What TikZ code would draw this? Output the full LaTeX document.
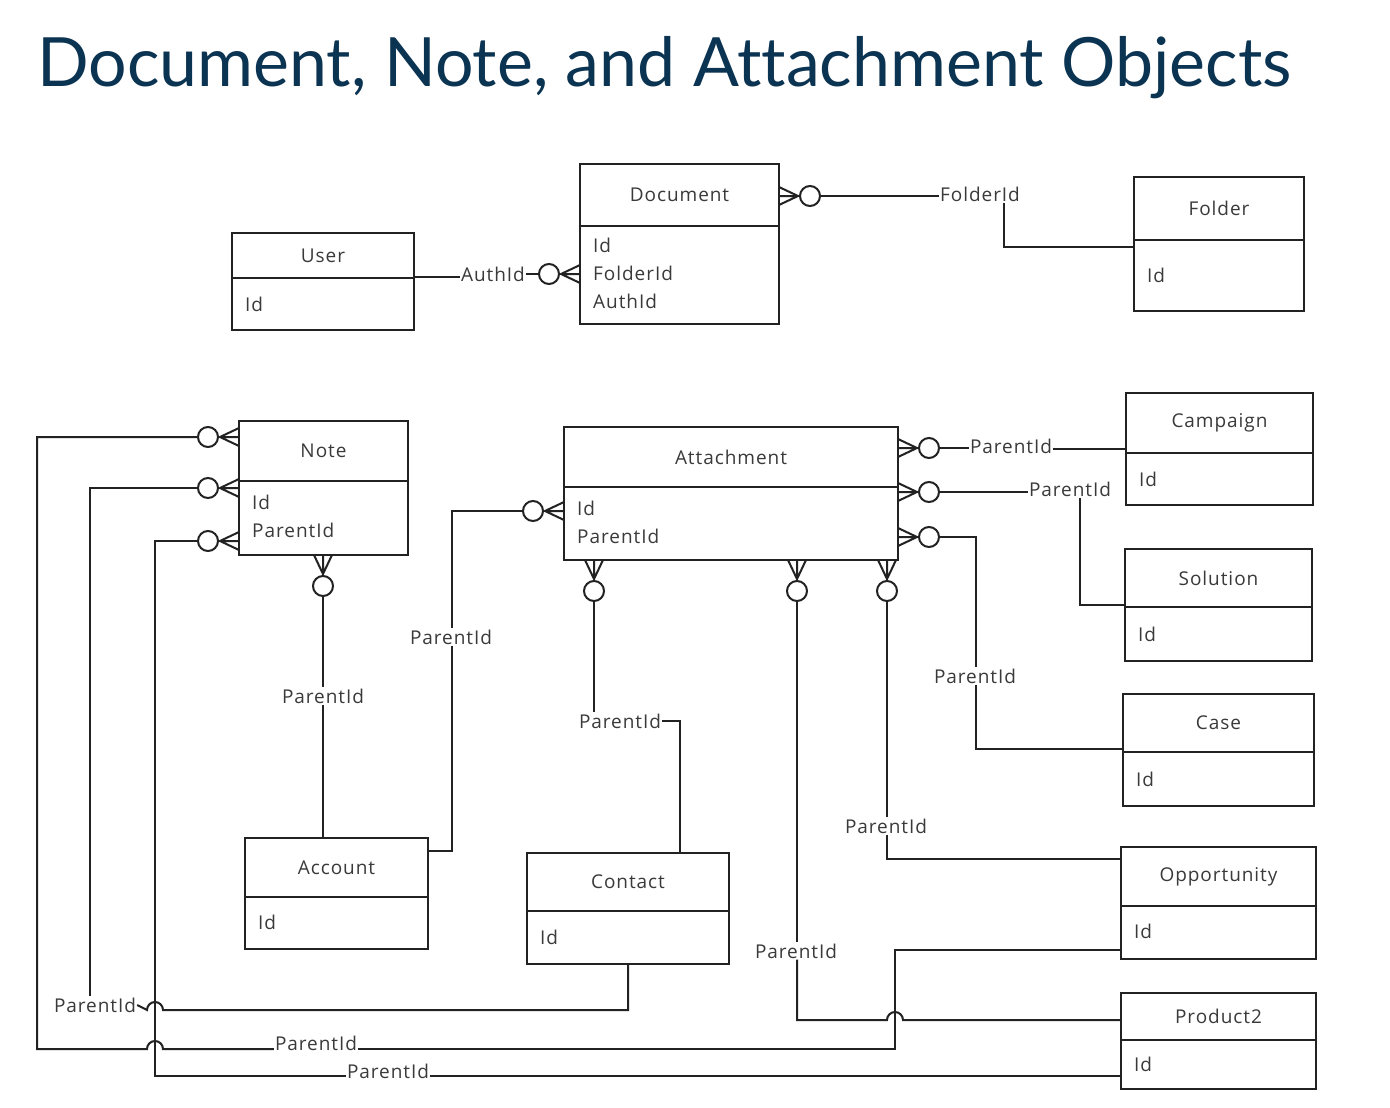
\documentclass[tikz,border=0pt]{standalone}
\usepackage{fontspec}
\setmainfont{Open Sans}[LetterSpace=5]
\newfontfamily\titlefont{Lato}[Ligatures=NoCommon]
\definecolor{titleblue}{HTML}{0B3352}
\definecolor{ink}{HTML}{222222}
\definecolor{txt}{HTML}{3A3A3A}
\tikzset{
  edge/.style={draw=ink, line width=2pt},
  entbox/.style={draw=ink, line width=2.2pt, fill=white, inner sep=0pt, outer sep=0pt, rectangle},
  enttitle/.style={inner sep=0pt, text=txt, font=\fontsize{19}{22}\selectfont},
  fields/.style={anchor=west, inner sep=0pt, align=left, text=txt, font=\fontsize{19}{28}\selectfont},
  lbl/.style={inner sep=1pt, text=txt, font=\fontsize{19}{22}\selectfont},
  crow/.pic={
    \draw[edge] (0,-9) -- (19,0) -- (0,9) (0,0) -- (19,0);
    \draw[edge, fill=white] (31,0) circle[radius=10];
    \coordinate (-end) at (41,0);
  }
}
\newcommand\erentity[9]{%
  \node[entbox, minimum width={(#4-#2)*1pt}, minimum height={(#5-#3)*1pt}, anchor=north west] (#1) at (#2,#3) {};
  \draw[edge] (#1.west |- 0,#6) -- (#1.east |- 0,#6);
  \node[enttitle] (#1-t) at ({(#2+#4)/2},{(#3+#6)/2}) {#7};
  \node[fields] (#1-f) at ({#2+13},#8) {#9};
}
\begin{document}
\begin{tikzpicture}[x=1pt,y=-1pt]
\useasboundingbox[fill=white] (0,0) rectangle (1390,1108);

\node[anchor=base west, inner sep=0pt, text=titleblue, font=\titlefont\fontsize{68}{78}\selectfont] (title) at (37,87) {Document, Note, and Attachment Objects};

% entities
\erentity{doc}{580}{164}{779}{324}{226}{Document}{273}{Id\\FolderId\\AuthId}
\erentity{user}{232}{233}{414}{330}{278}{User}{304}{Id}
\erentity{folder}{1134}{177}{1304}{311}{240}{Folder}{275}{Id}
\erentity{note}{239}{421}{408}{555}{481}{Note}{516}{Id\\ParentId}
\erentity{att}{564}{427}{898}{560}{487}{Attachment}{522}{Id\\ParentId}
\erentity{account}{245}{838}{428}{949}{897}{Account}{922}{Id}
\erentity{contact}{527}{853}{729}{964}{911}{Contact}{937}{Id}
\erentity{camp}{1126}{393}{1313}{505}{453}{Campaign}{479}{Id}
\erentity{sol}{1125}{549}{1312}{661}{607}{Solution}{634}{Id}
\erentity{case}{1123}{694}{1314}{806}{752}{Case}{779}{Id}
\erentity{opp}{1121}{847}{1316}{959}{906}{Opportunity}{931}{Id}
\erentity{prod}{1121}{993}{1316}{1089}{1040}{Product2}{1064}{Id}

% User - Document
\pic[rotate=180] (cAuth) at (doc.west |- 0,274) {crow};
\node[lbl] (lAuth) at (493,274) {AuthId};
\draw[edge] (user.east |- 0,277) -- (lAuth.west |- 0,277);
\draw[edge] (lAuth.east) -- (cAuth-end);

% Document - Folder
\pic (cFold) at (doc.east |- 0,196) {crow};
\node[lbl] (lFold) at (980,194) {FolderId};
\draw[edge] (cFold-end) -- (lFold.west |- 0,196);
\draw[edge] (lFold.south -| 1004,0) -- (1004,247) -- (folder.west |- 0,247);

% Note - Opportunity
\pic[rotate=180] (cN1) at (note.west |- 0,437) {crow};
\node[lbl] (lN1) at (316,1043) {ParentId};
\draw[edge] (cN1-end) -- (37,437) -- (37,1049) -- (147,1049) arc[start angle=180, end angle=0, radius=8pt] -- (lN1.west |- 0,1049);
\draw[edge] (lN1.east |- 0,1049) -- (895,1049) -- (895,950) -- (opp.west |- 0,950);

% Note - Contact
\pic[rotate=180] (cN2) at (note.west |- 0,488) {crow};
\node[lbl] (lN2) at (95,1005) {ParentId};
\draw[edge] (cN2-end) -- (90,488) -- (lN2.north -| 90,0);
\draw[edge] (contact.south -| 628,0) -- (628,1010) -- (163,1010) arc[start angle=0, end angle=180, radius=8pt] -- (lN2.east);

% Note - Product2
\pic[rotate=180] (cN3) at (note.west |- 0,541) {crow};
\node[lbl] (lN3) at (388,1071) {ParentId};
\draw[edge] (cN3-end) -- (155,541) -- (155,1076) -- (lN3.west |- 0,1076);
\draw[edge] (lN3.east |- 0,1076) -- (prod.west |- 0,1076);

% Note - Account
\pic[rotate=-90] (cN4) at (note.south -| 323,0) {crow};
\node[lbl] (lN4) at (323,696) {ParentId};
\draw[edge] (cN4-end) -- (lN4.north);
\draw[edge] (lN4.south) -- (account.north -| 323,0);

% Account - Attachment
\pic[rotate=180] (cA1) at (att.west |- 0,511) {crow};
\node[lbl] (lA1) at (451,637) {ParentId};
\draw[edge] (account.east |- 0,851) -- (452,851) -- (lA1.south -| 452,0);
\draw[edge] (lA1.north -| 452,0) -- (452,511) -- (cA1-end);

% Attachment - Contact
\pic[rotate=-90] (cA2) at (att.south -| 594,0) {crow};
\node[lbl] (lA2) at (620,721) {ParentId};
\draw[edge] (cA2-end) -- (lA2.north -| 594,0);
\draw[edge] (lA2.east) -- (680,721) -- (contact.north -| 680,0);

% Attachment - Product2
\pic[rotate=-90] (cA3) at (att.south -| 797,0) {crow};
\node[lbl] (lA3) at (796,951) {ParentId};
\draw[edge] (cA3-end) -- (lA3.north -| 797,0);
\draw[edge] (lA3.south -| 797,0) -- (797,1020) -- (887,1020) arc[start angle=180, end angle=0, radius=8pt] -- (prod.west |- 0,1020);

% Attachment - Opportunity
\pic[rotate=-90] (cA4) at (att.south -| 887,0) {crow};
\node[lbl] (lA4) at (886,826) {ParentId};
\draw[edge] (cA4-end) -- (lA4.north -| 887,0);
\draw[edge] (lA4.south -| 887,0) -- (887,859) -- (opp.west |- 0,859);

% Attachment - Campaign
\pic (cA5) at (att.east |- 0,448) {crow};
\node[lbl] (lA5) at (1011,446) {ParentId};
\draw[edge] (cA5-end) -- (lA5.west |- 0,448);
\draw[edge] (lA5.east |- 0,449) -- (camp.west |- 0,449);

% Attachment - Solution
\pic (cA6) at (att.east |- 0,492) {crow};
\node[lbl] (lA6) at (1070,489) {ParentId};
\draw[edge] (cA6-end) -- (lA6.west |- 0,492);
\draw[edge] (lA6.south -| 1080,0) -- (1080,605) -- (sol.west |- 0,605);

% Attachment - Case
\pic (cA7) at (att.east |- 0,537) {crow};
\node[lbl] (lA7) at (975,676) {ParentId};
\draw[edge] (cA7-end) -- (976,537) -- (lA7.north -| 976,0);
\draw[edge] (lA7.south -| 976,0) -- (976,749) -- (case.west |- 0,749);
\end{tikzpicture}
\end{document}
